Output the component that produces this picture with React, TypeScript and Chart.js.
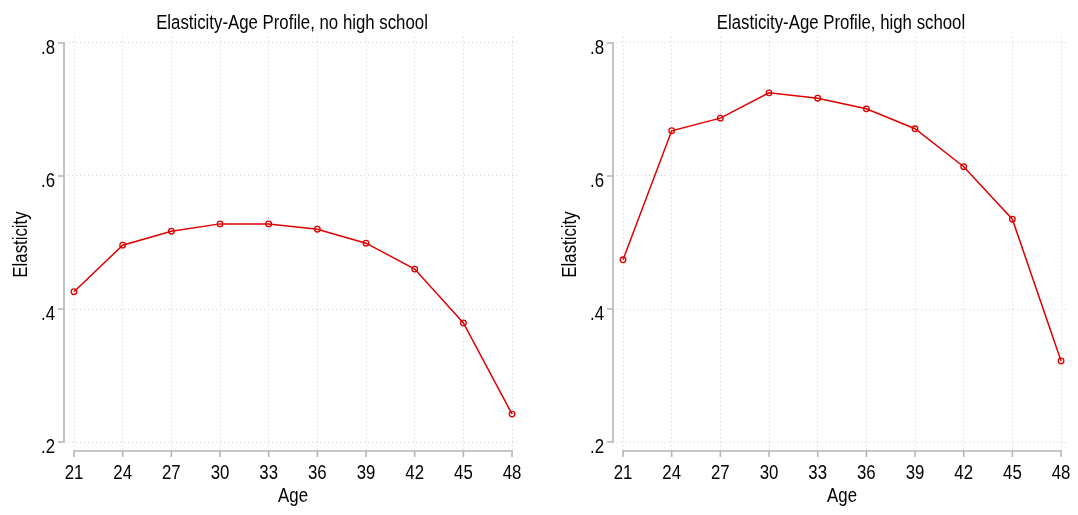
import React, { useEffect, useRef } from "react";
import { Chart, registerables } from "chart.js";

Chart.register(...registerables);

const ages = [21, 24, 27, 30, 33, 36, 39, 42, 45, 48];
const noHighSchool = [0.426, 0.496, 0.517, 0.528, 0.528, 0.52, 0.499, 0.46, 0.379, 0.242];
const highSchool = [0.474, 0.668, 0.687, 0.725, 0.717, 0.701, 0.671, 0.614, 0.535, 0.322];
const yTicks = [0.2, 0.4, 0.6, 0.8];
const yTickLabels = [".2", ".4", ".6", ".8"];
const xTicks = [21, 24, 27, 30, 33, 36, 39, 42, 45, 48];
const xTickLabels = ["21", "24", "27", "30", "33", "36", "39", "42", "45", "48"];
const panelTitles = ["Elasticity-Age Profile, no high school", "Elasticity-Age Profile, high school"];
const xTitle = "Age";
const yTitle = "Elasticity";

const FONT = "20px 'Liberation Sans', Arial, Helvetica, sans-serif";
const SX = 0.84; // horizontal condensing to imitate a narrow Helvetica
const RED = "rgb(222,0,0)";
const AXIS = "#b5b5b5";
const GRID = "#d2d2d2";

function drawText(ctx: any, text: string, x: number, y: number, align: string, rot = 0) {
  ctx.save();
  ctx.translate(x, y);
  if (rot) ctx.rotate(rot);
  ctx.scale(SX, 1);
  ctx.font = FONT;
  ctx.fillStyle = "#000";
  ctx.textAlign = align;
  ctx.textBaseline = "alphabetic";
  ctx.fillText(text, 0, 0);
  ctx.restore();
}

const stataAxes = {
  id: "stataAxes",
  beforeDatasetsDraw(chart: any) {
    const { ctx, chartArea } = chart;
    const x = chart.scales.x;
    const y = chart.scales.y;
    ctx.save();
    ctx.strokeStyle = AXIS;
    ctx.lineWidth = 1.6;
    ctx.setLineDash([]);
    const ax = chartArea.left;
    ctx.beginPath();
    ctx.moveTo(ax, y.getPixelForValue(yTicks[yTicks.length - 1]) - 0.8);
    ctx.lineTo(ax, y.getPixelForValue(yTicks[0]) + 0.8);
    yTicks.forEach((v) => {
      const py = y.getPixelForValue(v);
      ctx.moveTo(ax - 6, py);
      ctx.lineTo(ax, py);
    });
    const ay = chartArea.bottom;
    ctx.moveTo(x.getPixelForValue(xTicks[0]) - 0.8, ay);
    ctx.lineTo(x.getPixelForValue(xTicks[xTicks.length - 1]) + 0.8, ay);
    xTicks.forEach((v) => {
      const px = x.getPixelForValue(v);
      ctx.moveTo(px, ay);
      ctx.lineTo(px, ay + 6);
    });
    ctx.stroke();
    ctx.restore();
  },
  afterDraw(chart: any) {
    const { ctx, chartArea } = chart;
    const x = chart.scales.x;
    const y = chart.scales.y;
    const title = chart.options.plugins.stataAxes.title;
    // panel title
    drawText(ctx, title, (chartArea.left + chartArea.right) / 2, 29, "center");
    // y tick labels
    yTicks.forEach((v, i) => {
      drawText(ctx, yTickLabels[i], chartArea.left - 9, y.getPixelForValue(v) + 11, "right");
    });
    // x tick labels
    xTicks.forEach((v, i) => {
      drawText(ctx, xTickLabels[i], x.getPixelForValue(v), chartArea.bottom + 28, "center");
    });
    // axis titles
    const xMid = (x.getPixelForValue(xTicks[0]) + x.getPixelForValue(xTicks[xTicks.length - 1])) / 2;
    drawText(ctx, xTitle, xMid, chartArea.bottom + 51, "center");
    const yMid = (y.getPixelForValue(yTicks[0]) + y.getPixelForValue(yTicks[yTicks.length - 1])) / 2;
    drawText(ctx, yTitle, 27, yMid + 2, "center", -Math.PI / 2);
  },
};

function Panel({ title, values, left, width }: { title: string; values: number[]; left: number; width: number }) {
  const ref = useRef<HTMLCanvasElement | null>(null);
  useEffect(() => {
    if (!ref.current) return;
    const chart = new Chart(ref.current, {
      type: "line",
      data: {
        datasets: [
          {
            data: ages.map((a, i) => ({ x: a, y: values[i] })),
            borderColor: RED,
            borderWidth: 1.5,
            pointRadius: 2.8,
            pointBorderWidth: 1.3,
            pointBorderColor: RED,
            pointBackgroundColor: "rgba(255,255,255,0)",
            tension: 0,
            fill: false,
          },
        ],
      },
      options: {
        responsive: false,
        animation: false,
        devicePixelRatio: 1,
        layout: { padding: { left: 0, right: width - 520, top: 37, bottom: 0 } },
        plugins: {
          legend: { display: false },
          tooltip: { enabled: false },
          title: { display: false },
          stataAxes: { title },
        },
        scales: {
          x: {
            type: "linear",
            min: 20.383,
            max: 48.49,
            afterFit: (s: any) => {
              s.height = 64;
            },
            afterBuildTicks: (s: any) => {
              s.ticks = xTicks.map((v) => ({ value: v }));
            },
            ticks: { display: false },
            grid: { color: GRID, lineWidth: 1, drawTicks: false },
            border: { display: false, dash: [1, 3] },
          },
          y: {
            type: "linear",
            min: 0.1865,
            max: 0.809,
            afterFit: (s: any) => {
              s.width = 64;
            },
            afterBuildTicks: (s: any) => {
              s.ticks = yTicks.map((v) => ({ value: v }));
            },
            ticks: { display: false },
            grid: { color: GRID, lineWidth: 1, drawTicks: false },
            border: { display: false, dash: [1, 3] },
          },
        },
      } as any,
      plugins: [stataAxes],
    });
    return () => chart.destroy();
  }, []);
  return (
    <canvas
      ref={ref}
      width={width}
      height={515}
      style={{ position: "absolute", left, top: 0, width, height: 515 }}
    />
  );
}

export default function App() {
  return (
    <div style={{ position: "fixed", left: 0, top: 0, width: 1078, height: 515, background: "#fff", overflow: "hidden" }}>
      <Panel title={panelTitles[0]} values={noHighSchool} left={0} width={539} />
      <Panel title={panelTitles[1]} values={highSchool} left={549} width={529} />
    </div>
  );
}
